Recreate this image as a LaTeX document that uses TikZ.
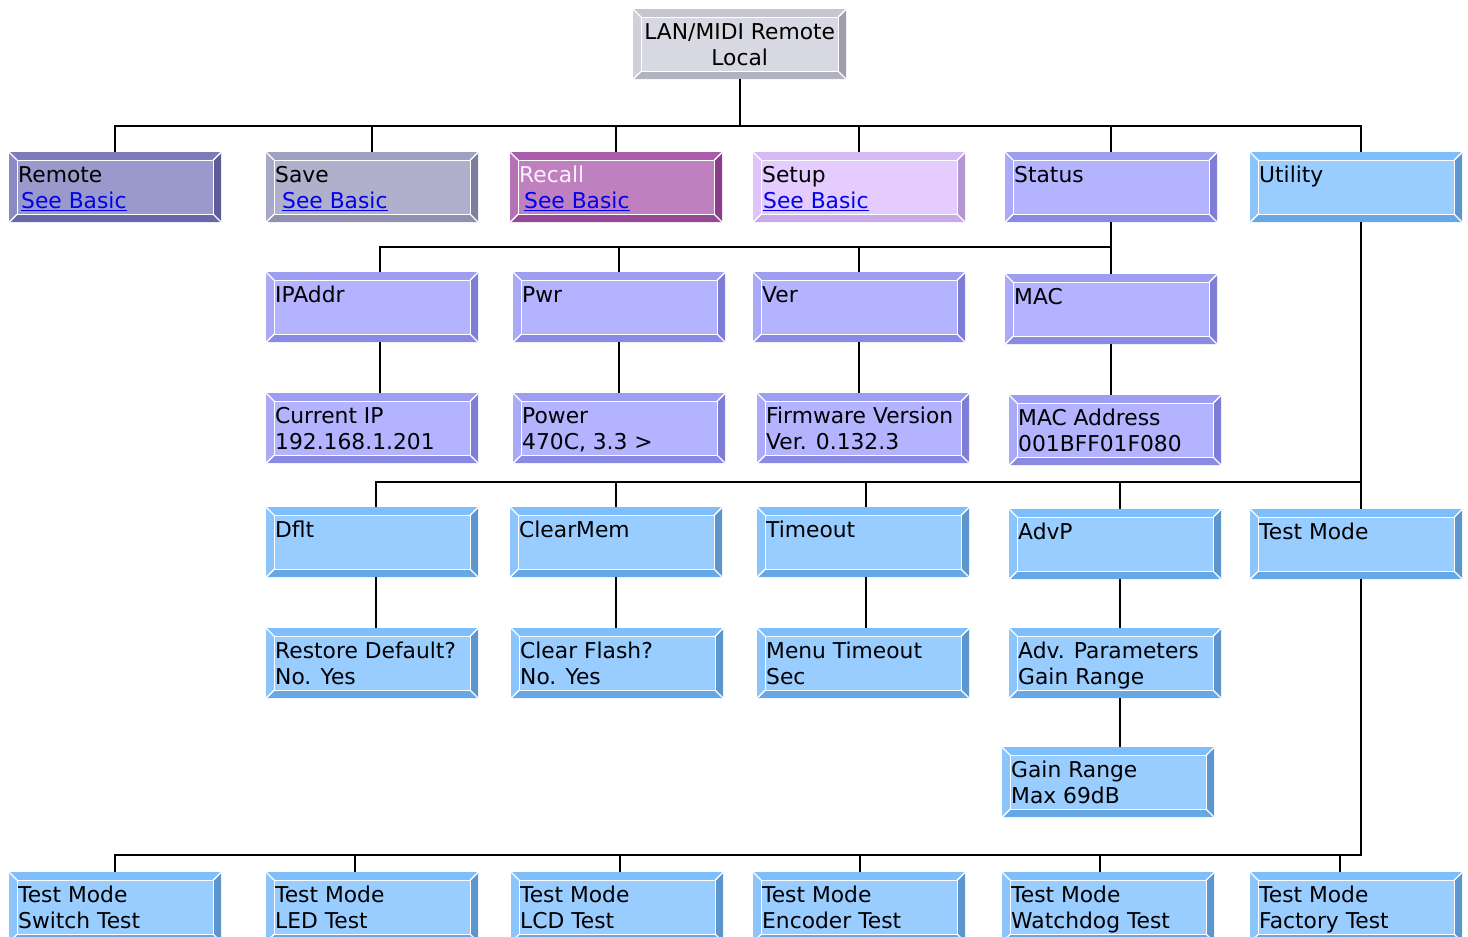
\documentclass[tikz,border=0pt]{standalone}
\usepackage{fontspec}
\setmainfont{DejaVu Sans}
\usetikzlibrary{calc}
\definecolor{grayF}{RGB}{216,216,226}\definecolor{grayT}{RGB}{198,198,210}\definecolor{grayL}{RGB}{208,208,220}\definecolor{grayR}{RGB}{158,158,176}\definecolor{grayB}{RGB}{178,178,192}
\definecolor{remF}{RGB}{153,153,204}\definecolor{remT}{RGB}{124,124,186}\definecolor{remL}{RGB}{138,138,196}\definecolor{remR}{RGB}{92,92,150}\definecolor{remB}{RGB}{104,104,168}
\definecolor{savF}{RGB}{176,176,204}\definecolor{savT}{RGB}{160,160,192}\definecolor{savL}{RGB}{168,168,200}\definecolor{savR}{RGB}{126,126,158}\definecolor{savB}{RGB}{144,144,176}
\definecolor{recF}{RGB}{191,128,191}\definecolor{recT}{RGB}{170,92,170}\definecolor{recL}{RGB}{182,112,182}\definecolor{recR}{RGB}{138,62,138}\definecolor{recB}{RGB}{150,74,150}
\definecolor{setF}{RGB}{228,204,255}\definecolor{setT}{RGB}{214,186,244}\definecolor{setL}{RGB}{222,196,250}\definecolor{setR}{RGB}{180,150,210}\definecolor{setB}{RGB}{200,170,230}
\definecolor{staF}{RGB}{179,179,255}\definecolor{staT}{RGB}{158,158,240}\definecolor{staL}{RGB}{170,170,248}\definecolor{staR}{RGB}{126,126,214}\definecolor{staB}{RGB}{138,138,228}
\definecolor{bluF}{RGB}{153,204,255}\definecolor{bluT}{RGB}{126,190,250}\definecolor{bluL}{RGB}{140,196,252}\definecolor{bluR}{RGB}{92,150,204}\definecolor{bluB}{RGB}{102,168,230}
\definecolor{linkc}{RGB}{0,0,238}
\tikzset{
 bev/.style={rectangle, draw=none, inner sep=0pt, minimum width=212pt, minimum height=70pt,
  anchor=north west, fill=#1F,
  path picture={
   \coordinate (pp-nw) at (path picture bounding box.north west);
   \coordinate (pp-ne) at (path picture bounding box.north east);
   \coordinate (pp-sw) at (path picture bounding box.south west);
   \coordinate (pp-se) at (path picture bounding box.south east);
   \coordinate (pi-nw) at ([shift={(8pt,-8pt)}]pp-nw);
   \coordinate (pi-ne) at ([shift={(-8pt,-8pt)}]pp-ne);
   \coordinate (pi-sw) at ([shift={(8pt,8pt)}]pp-sw);
   \coordinate (pi-se) at ([shift={(-8pt,8pt)}]pp-se);
   \fill[#1T] (pp-nw) -- (pp-ne) -- (pi-ne) -- (pi-nw) -- cycle;
   \fill[#1R] (pp-ne) -- (pp-se) -- (pi-se) -- (pi-ne) -- cycle;
   \fill[#1B] (pp-sw) -- (pp-se) -- (pi-se) -- (pi-sw) -- cycle;
   \fill[#1L] (pp-nw) -- (pp-sw) -- (pi-sw) -- (pi-nw) -- cycle;
   \draw[white, line width=1.3pt] (pi-nw) rectangle (pi-se);
   \draw[white, line width=1.3pt] (pp-nw) -- (pi-nw) (pp-ne) -- (pi-ne) (pp-sw) -- (pi-sw) (pp-se) -- (pi-se);
  }},
 txt/.style={inner sep=0pt, align=left, anchor=north west, font=\fontsize{21.8}{26}\selectfont},
 conn/.style={draw=black, line width=2.2pt},
 conn2/.style={draw=black, line width=1.8pt},
}
\newcommand\fl{\rule{0pt}{17pt}}
\newcommand\bx[5]{%
 \node[bev=#2] (#1) at (#3,#4) {};
 \node[txt] (#1-t) at ([shift={(9pt,-13pt)}]#1.north west) {\fl#5};
}
\newcommand\lnk[1]{\textcolor{linkc}{\underline{#1}}}
\begin{document}
\begin{tikzpicture}[x=1pt,y=-1pt]
\useasboundingbox (0,0) rectangle (1468,937);
\clip (0,0) rectangle (1468,937);
\coordinate (b1) at (0,126);
\coordinate (b2) at (0,247);
\coordinate (b3) at (0,482);
\coordinate (b4) at (0,855);
\node[bev=gray, minimum width=213pt] (lan) at (633,9) {};
\node[txt, align=center, anchor=north] (lan-t) at ([yshift=-13pt]lan.north) {\fl LAN/MIDI Remote\\Local};
\bx{remote}{rem}{9}{152}{Remote\\\hspace*{3pt}\lnk{See Basic}}
\bx{save}{sav}{266}{152}{Save\\\hspace*{7pt}\lnk{See Basic}}
\bx{recall}{rec}{510}{152}{\textcolor[RGB]{250,240,250}{Recall}\\\hspace*{5pt}\lnk{See Basic}}
\bx{setup}{set}{753}{152}{Setup\\\hspace*{1pt}\lnk{See Basic}}
\bx{status}{sta}{1005}{152}{Status}
\bx{utility}{blu}{1250}{152}{Utility}
\bx{ipaddr}{sta}{266}{272}{IPAddr}
\bx{pwr}{sta}{513}{272}{Pwr}
\bx{ver}{sta}{753}{272}{Ver}
\bx{mac}{sta}{1005}{274}{MAC}
\bx{curip}{sta}{266}{393}{Current IP\\192.168.1.201}
\bx{power}{sta}{513}{393}{Power\\470C, 3.3 >}
\bx{fw}{sta}{757}{393}{Firmware Version\\Ver. 0.132.3}
\bx{macaddr}{sta}{1009}{395}{MAC Address\\001BFF01F080}
\bx{dflt}{blu}{266}{507}{Dflt}
\bx{clrmem}{blu}{510}{507}{ClearMem}
\bx{timeout}{blu}{757}{507}{Timeout}
\bx{advp}{blu}{1009}{509}{AdvP}
\bx{testmode}{blu}{1250}{509}{Test Mode}
\bx{restore}{blu}{266}{628}{Restore Default?\\No. Yes}
\bx{clrflash}{blu}{511}{628}{Clear Flash?\\No. Yes}
\bx{menuto}{blu}{757}{628}{Menu Timeout\\Sec}
\bx{advparam}{blu}{1009}{628}{Adv. Parameters\\Gain Range}
\bx{gain}{blu}{1002}{747}{Gain Range\\Max 69dB}
\bx{sw}{blu}{9}{872}{Test Mode\\Switch Test}
\bx{led}{blu}{266}{872}{Test Mode\\LED Test}
\bx{lcd}{blu}{511}{872}{Test Mode\\LCD Test}
\bx{enc}{blu}{753}{872}{Test Mode\\Encoder Test}
\bx{wd}{blu}{1002}{872}{Test Mode\\Watchdog Test}
\bx{fac}{blu}{1250}{872}{Test Mode\\Factory Test}
% connectors
\foreach \c in {remote,save,recall,setup,status}
  \draw[conn] (lan.south) -- (lan.south |- b1) -| (\c.north);
\draw[conn] (lan.south) -- (lan.south |- b1) -| ([xshift=5pt]utility.north);
\draw[conn] (status.south) -- (status.south |- b2) -| ([xshift=8pt]ipaddr.north);
\foreach \c in {pwr,ver,mac}
  \draw[conn] (status.south) -- (status.south |- b2) -| (\c.north);
\draw[conn2] ([xshift=8pt]ipaddr.south) -- ([xshift=8pt]curip.north);
\draw[conn2] (pwr.south) -- (pwr.south |- power.north);
\draw[conn2] (ver.south) -- (ver.south |- fw.north);
\draw[conn2] (mac.south) -- (mac.south |- macaddr.north);
\coordinate (us) at ([xshift=5pt]utility.south);
\coordinate (ts) at ([xshift=5pt]testmode.south);
\draw[conn] (us) -- ([xshift=5pt]testmode.north);
\draw[conn] (us) -- (us |- b3) -| ([xshift=4pt]dflt.north);
\draw[conn] (us) -- (us |- b3) -| (clrmem.north);
\draw[conn] (us) -- (us |- b3) -| ([xshift=3pt]timeout.north);
\draw[conn] (us) -- (us |- b3) -| ([xshift=5pt]advp.north);
\draw[conn2] ([xshift=4pt]dflt.south) -- ([xshift=4pt]restore.north);
\draw[conn2] (clrmem.south) -- (clrmem.south |- clrflash.north);
\draw[conn2] ([xshift=3pt]timeout.south) -- ([xshift=3pt]menuto.north);
\draw[conn2] ([xshift=5pt]advp.south) -- ([xshift=5pt]advparam.north);
\draw[conn2] ([xshift=5pt]advparam.south) -- ([xshift=5pt]advparam.south |- gain.north);
\draw[conn] (ts) -- (ts |- b4) -| (sw.north);
\draw[conn] (ts) -- (ts |- b4) -| ([xshift=-17pt]led.north);
\draw[conn] (ts) -- (ts |- b4) -| ([xshift=3pt]lcd.north);
\draw[conn] (ts) -- (ts |- b4) -| ([xshift=1pt]enc.north);
\draw[conn] (ts) -- (ts |- b4) -| ([xshift=-8pt]wd.north);
\draw[conn] (ts) -- (ts |- b4) -| ([xshift=-16pt]fac.north);
\end{tikzpicture}
\end{document}
